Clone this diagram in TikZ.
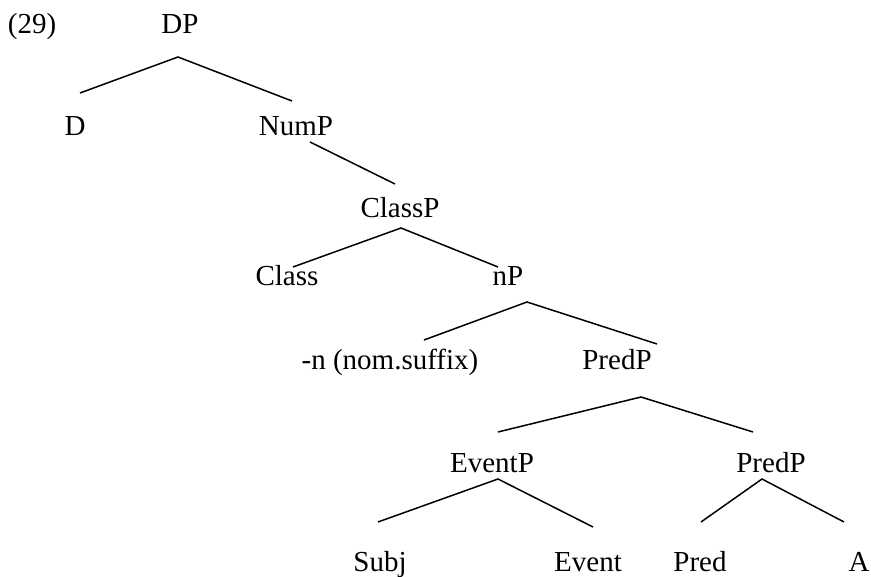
\documentclass[tikz,border=0pt]{standalone}
\usepackage{fontspec}
\setmainfont{Liberation Serif}
\usepackage{tikz}

\begin{document}
\begin{tikzpicture}[x=1pt, y=-1pt,
	lab/.style={anchor=base, inner sep=0pt, font=\fontsize{29}{33}\selectfont},
	branch/.style={line width=1.5pt}]
	\useasboundingbox (0,0) rectangle (871,577);
	\node [lab] (0) at (32,34) {(29)};
	\node [lab] (1) at (180,34) {DP};
	\node [lab] (2) at (75,136) {D};
	\node [lab] (3) at (296,136) {NumP};
	\node [lab] (4) at (400,218) {ClassP};
	\node [lab] (5) at (287,286) {Class};
	\node [lab] (6) at (508,286) {nP};
	\node [lab] (7) at (390,370) {-n (nom.suffix)};
	\node [lab] (8) at (617,370) {PredP};
	\node [lab] (9) at (492,473) {EventP};
	\node [lab] (10) at (771,473) {PredP};
	\node [lab] (11) at (380,571) {Subj};
	\node [lab] (12) at (588,571) {Event};
	\node [lab] (13) at (700,571) {Pred};
	\node [lab] (14) at (859,571) {A};
	% branch ends
	\coordinate (1t) at (178,57);
	\coordinate (2t) at (80,93);
	\coordinate (3t) at (292,101);
	\coordinate (3b) at (310,142);
	\coordinate (4t) at (395,184);
	\coordinate (4b) at (401,228);
	\coordinate (5t) at (293,267);
	\coordinate (6t) at (498,267);
	\coordinate (6b) at (527,302);
	\coordinate (7t) at (424,340);
	\coordinate (8t) at (657,344);
	\coordinate (8b) at (641,397);
	\coordinate (9t) at (498,432);
	\coordinate (10t) at (753,432);
	\coordinate (9b) at (498,479);
	\coordinate (11t) at (378,522);
	\coordinate (12t) at (593,527);
	\coordinate (10b) at (762,479);
	\coordinate (13t) at (701,522);
	\coordinate (14t) at (844,522);
	\draw [branch] (2t) -- (1t) -- (3t);
	\draw [branch] (3b) -- (4t);
	\draw [branch] (5t) -- (4b) -- (6t);
	\draw [branch] (7t) -- (6b) -- (8t);
	\draw [branch] (9t) -- (8b) -- (10t);
	\draw [branch] (11t) -- (9b) -- (12t);
	\draw [branch] (13t) -- (10b) -- (14t);
\end{tikzpicture}
\end{document}
